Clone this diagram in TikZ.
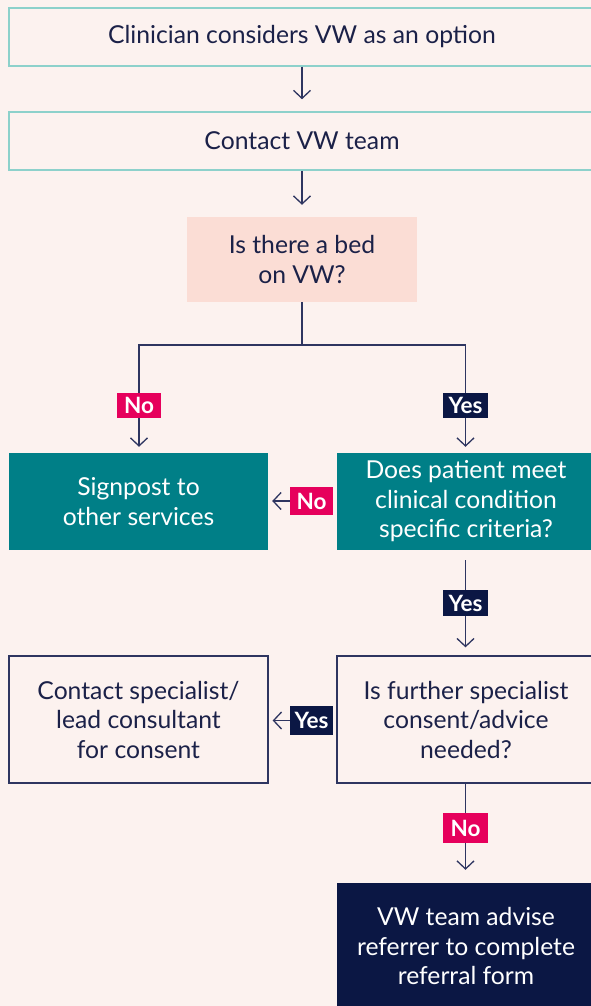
\documentclass[tikz,border=0pt]{standalone}
\usepackage{fontspec}
\setmainfont{Lato}
\usetikzlibrary{arrows.meta}
\definecolor{bg}{HTML}{FCF2EF}
\definecolor{teal}{HTML}{007F87}
\definecolor{lteal}{HTML}{8DD1CB}
\definecolor{pinkfill}{HTML}{FBDDD5}
\definecolor{navy}{HTML}{0B1744}
\definecolor{magenta}{HTML}{E6005C}
\definecolor{linec}{HTML}{2E3560}
\definecolor{txt}{HTML}{1B2148}
\tikzset{
  base/.style={rectangle, inner sep=0pt, align=center, font=\fontsize{24.7}{29.5}\selectfont, text=txt},
  topbox/.style={base, draw=lteal, line width=1.5pt, minimum width=586pt, minimum height=58pt},
  qbox/.style={base, fill=pinkfill, minimum width=230pt, minimum height=85pt},
  tealbox/.style={base, fill=teal, text=white, minimum width=258pt, minimum height=97pt},
  linebox/.style={base, draw=linec, line width=1.3pt, minimum width=258pt, minimum height=127pt},
  navybox/.style={base, fill=navy, text=white, minimum width=258pt, minimum height=126pt},
  nolab/.style={rectangle, fill=magenta, text=white, inner sep=0pt, font=\fontsize{22.5}{22.5}\selectfont\bfseries, minimum width=44pt},
  yeslab/.style={rectangle, fill=navy, text=white, inner sep=0pt, font=\fontsize{22.5}{22.5}\selectfont\bfseries, minimum width=45pt},
  conn/.style={draw=linec, line width=1.3pt},
  arr/.style={conn, -{Straight Barb[length=8pt,width=17pt]}},
}
\begin{document}
\begin{tikzpicture}[x=1pt,y=1pt]
\useasboundingbox (0,0) rectangle (591,-1006);
\fill[bg] (0,0) rectangle (591,-1006);
\clip (0,0) rectangle (591,-1006);

\node[topbox] (b1) at (302,-37) {Clinician considers VW as an option};
\node[topbox] (b2) at (302,-141) {Contact VW team};
\node[qbox] (bed) at (302,-259.5) {Is there a bed\\on VW?};
\node[tealbox, minimum width=259pt] (sign) at (138.5,-501.5) {Signpost to\\other services};
\node[tealbox] (meet) at (466,-501.5) {Does patient meet\\clinical condition\\specific criteria?};
\node[linebox, minimum width=259pt] (spec) at (138.5,-719.5) {Contact specialist/\\lead consultant\\for consent};
\node[linebox] (further) at (466,-719.5) {Is further specialist\\consent/advice\\needed?};
\node[navybox] (refer) at (466,-946) {VW team advise\\referrer to complete\\referral form};

\node[nolab, minimum height=25pt] (no1) at (139,-405.5) {No};
\node[yeslab, minimum height=25pt] (yes1) at (465.5,-405.5) {Yes};
\node[nolab, minimum width=43pt, minimum height=28pt] (no2) at (311.5,-501) {No};
\node[yeslab, minimum height=26pt] (yes2) at (465.5,-603) {Yes};
\node[yeslab, minimum width=43pt, minimum height=29pt] (yes3) at (311.5,-720.5) {Yes};
\node[nolab, minimum width=45pt, minimum height=30pt] (no3) at (465.5,-828) {No};

\coordinate (split) at (302,-345);

\draw[arr, shorten >=12pt] (b1) -- (b2);
\draw[arr, shorten >=12pt] (b2) -- (bed);
\draw[conn] (bed.south) -- (split);
\draw[conn] (split) -| (no1.north);
\draw[conn] (split) -| (yes1.north);
\draw[arr, shorten >=6pt] (no1.south) -- (no1.south |- sign.north);
\draw[arr, shorten >=6pt] (yes1.south) -- (yes1.south |- meet.north);
\draw[arr, shorten >=4pt] (no2.west) -- (no2.west -| sign.east);
\draw[conn, shorten <=10pt] (meet.south -| yes2) -- (yes2.north);
\draw[arr, shorten >=8pt] (yes2.south) -- (yes2.south |- further.north);
\draw[arr, shorten >=4pt] (yes3.west) -- (yes3.west -| spec.east);
\draw[conn] (further.south -| no3) -- (no3.north);
\draw[arr, shorten >=13pt] (no3.south) -- (no3.south |- refer.north);
\end{tikzpicture}
\end{document}
